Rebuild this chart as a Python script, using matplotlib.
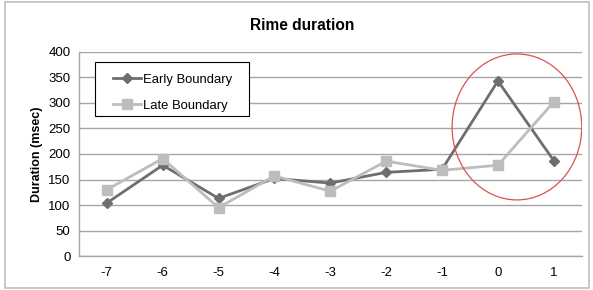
import matplotlib
matplotlib.use("Agg")
import matplotlib.pyplot as plt
from matplotlib.patches import Ellipse, Rectangle

plt.rcParams['font.family'] = ['Liberation Sans', 'DejaVu Sans']

categories = ['-7', '-6', '-5', '-4', '-3', '-2', '-1', '0', '1']
early = [104, 178, 113, 152, 143, 164, 170, 343, 187]
late = [130, 191, 95, 157, 127, 186, 168, 178, 302]
yticks = [0, 50, 100, 150, 200, 250, 300, 350, 400]

W, H = 593, 290
fig = plt.figure(figsize=(W / 100, H / 100), dpi=100)
ax = fig.add_axes([0.133, 0.117, 0.848, 0.704])

x = list(range(len(categories)))
ax.plot(x, early, '-D', color='#6e6e6e', lw=2.0, ms=5, label='Early Boundary', zorder=3)
ax.plot(x, late, '-s', color='#bdbdbd', lw=2.0, ms=6.5, label='Late Boundary', zorder=3)

# circled region
ax.add_patch(Ellipse((7.34, 253), 2.32, 286, fill=False, ec='#d9534f', lw=0.9, zorder=4))

ax.set_xlim(-0.5, len(categories) - 0.5)
ax.set_ylim(0, 400)
ax.set_yticks(yticks)
ax.set_xticks(x)
ax.set_xticklabels(categories)
ax.tick_params(length=0, labelsize=9.5, pad=8)
ax.tick_params(axis='y', pad=6)
ax.yaxis.grid(True, color='#a6a6a6', lw=1.0)
ax.set_axisbelow(True)
for s in ['top', 'right']:
    ax.spines[s].set_visible(False)
for s in ['left', 'bottom']:
    ax.spines[s].set_color('#a6a6a6')
    ax.spines[s].set_linewidth(1.0)

ax.set_ylabel('Duration (msec)', fontsize=9, fontweight='bold', labelpad=4)
fig.text(302 / W, 1 - 25 / H, 'Rime duration', ha='center', va='center',
         fontsize=11.2, fontweight='bold')

# legend without frame, box drawn separately
leg = ax.legend(loc='upper left', bbox_to_anchor=(106 / W, 1 - 67 / H),
                bbox_transform=fig.transFigure, fontsize=9.4, frameon=False,
                handlelength=2.2, handletextpad=0.1, borderpad=0, labelspacing=1.05)
leg.set_zorder(6)
ax.add_patch(Rectangle((95 / W, 1 - 116 / H), 154 / W, 54 / H,
                       transform=fig.transFigure, clip_on=False, fc='white',
                       ec='black', lw=0.8, zorder=5))

fig.patches.append(Rectangle((0.008, 0.007), 0.986, 0.986, transform=fig.transFigure,
                             fill=False, ec='#bfbfbf', lw=1.2))

fig.savefig('out.png', dpi=100)
